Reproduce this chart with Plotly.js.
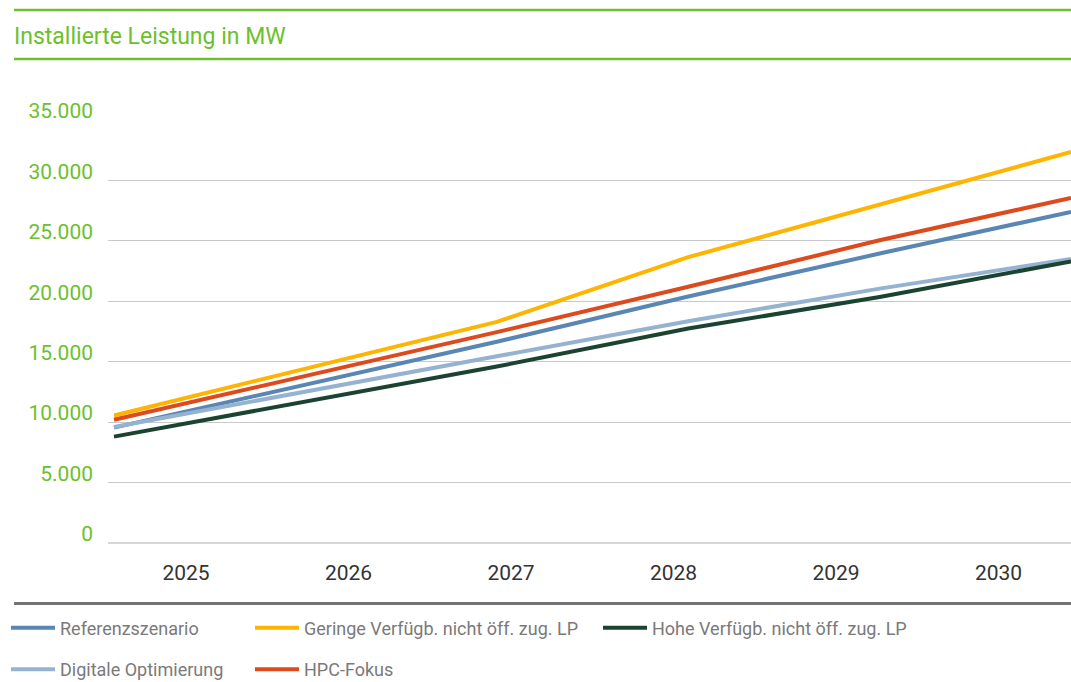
<!DOCTYPE html>
<html>
<head>
<meta charset="utf-8">
<script src="https://cdn.plot.ly/plotly-3.0.1.min.js"></script>
<style>
html,body{margin:0;padding:0;background:#fff;}
#chart{width:1071px;height:682px;}
</style>
</head>
<body>
<div id="chart"></div>
<script>
// ---- data ----
const years = ['2025', '2026', '2027', '2028', '2029', '2030'];
const yearNums = [2025, 2026, 2027, 2028, 2029, 2030];
const referenzszenario = [9550, 13100, 16650, 20400, 23950, 27400];
const geringeVerfuegb = [10550, 14400, 18300, 23650, 28000, 32350];
const hoheVerfuegb = [8800, 11700, 14600, 17750, 20350, 23300];
const digitaleOptimierung = [9600, 12550, 15450, 18350, 21050, 23500];
const hpcFokus = [10200, 13800, 17450, 21200, 25050, 28550];
const yTicks = [0, 5000, 10000, 15000, 20000, 25000, 30000, 35000];

// ---- geometry helpers ----
const W = 1071, H = 682;
const plotL = 108, plotR = 1071, plotT = 120, plotB = 543.4;
const pw = plotR - plotL, ph = plotB - plotT;
const px = x => (x - plotL) / pw;
const py = y => (plotB - y) / ph;

const green = '#6cbf2d';
const font = '"Roboto", "Noto Sans", sans-serif';

function line(name, y, color, legend, group) {
  return {
    type: 'scatter', mode: 'lines', name: name,
    x: yearNums, y: y, xaxis: 'x', yaxis: 'y',
    line: {color: color, width: 4},
    legend: legend, legendgroup: group, hoverinfo: 'x+y+name'
  };
}

const traces = [
  line('Referenzszenario', referenzszenario, '#5a86b3', 'legend', 'a1'),
  line('Digitale Optimierung', digitaleOptimierung, '#95b3d1', 'legend', 'a2'),
  line('Geringe Verfügb. nicht öff. zug. LP', geringeVerfuegb, '#ffb400', 'legend2', 'b1'),
  line('HPC-Fokus', hpcFokus, '#dc4a1d', 'legend2', 'b2'),
  line('Hohe Verfügb. nicht öff. zug. LP', hoheVerfuegb, '#1b4332', 'legend3', 'c1'),
  {type: 'scatter', mode: 'lines', x: years, y: years.map(() => null),
   xaxis: 'x2', yaxis: 'y', showlegend: false, hoverinfo: 'skip'}
];

// lines: first point 6px inside plot, last point at right edge
const unit = (plotR - (plotL + 6)) / 5;
const band = 162.5;
const firstLabel = 186;

const legendBase = {
  orientation: 'v', bgcolor: 'rgba(0,0,0,0)', borderwidth: 0,
  font: {family: font, size: 18, color: '#7a7a7a'},
  itemwidth: 44, traceorder: 'grouped', tracegroupgap: 15,
  xref: 'paper', yref: 'paper', xanchor: 'left', yanchor: 'top',
  y: py(610), itemclick: false, itemdoubleclick: false
};

const layout = {
  width: W, height: H,
  margin: {l: plotL, r: W - plotR, t: plotT, b: H - plotB, pad: 0, autoexpand: false},
  paper_bgcolor: '#ffffff', plot_bgcolor: '#ffffff',
  separators: ',.',
  font: {family: font},
  title: {
    text: 'Installierte Leistung in MW',
    font: {family: font, size: 23, color: green},
    xref: 'container', yref: 'container',
    x: 14 / W, xanchor: 'left', y: 1 - 36 / H, yanchor: 'middle'
  },
  xaxis: {
    type: 'linear',
    range: [2025 - 6 / unit, 2030],
    showgrid: false, zeroline: false, showticklabels: false, ticks: '',
    showline: false, fixedrange: true
  },
  xaxis2: {
    type: 'category', overlaying: 'x', anchor: 'y', side: 'bottom',
    categoryorder: 'array', categoryarray: years,
    range: [-(firstLabel - plotL) / band, -(firstLabel - plotL) / band + pw / band],
    tickmode: 'array', tickvals: years, ticktext: years,
    showgrid: false, zeroline: false, showline: false, ticks: '',
    ticklabelstandoff: 15,
    tickfont: {family: font, size: 21, color: '#333333'}
  },
  yaxis: {
    range: [0, 35000],
    tickmode: 'array', tickvals: yTicks,
    tickformat: ',d',
    showgrid: true, gridcolor: '#c9c9c9', gridwidth: 1,
    zeroline: true, zerolinecolor: '#d6d6d6', zerolinewidth: 2,
    showline: false, ticks: '',
    ticklabelstandoff: 14,
    ticklabelshift: -9,
    tickfont: {family: font, size: 21, color: green},
    fixedrange: true
  },
  showlegend: true,
  legend: Object.assign({}, legendBase, {x: px(6)}),
  legend2: Object.assign({}, legendBase, {x: px(250)}),
  legend3: Object.assign({}, legendBase, {x: px(598)}),
  shapes: [
    {type: 'line', xref: 'paper', yref: 'paper', x0: px(14), x1: px(W), y0: py(10), y1: py(10),
     line: {color: green, width: 2.5}},
    {type: 'line', xref: 'paper', yref: 'paper', x0: px(14), x1: px(W), y0: py(59), y1: py(59),
     line: {color: green, width: 2.5}},
    {type: 'line', xref: 'paper', yref: 'paper', x0: px(14), x1: px(W), y0: py(604), y1: py(604),
     line: {color: '#737373', width: 3}}
  ]
};

Plotly.newPlot('chart', traces, layout, {displayModeBar: false, staticPlot: true});
</script>
</body>
</html>
